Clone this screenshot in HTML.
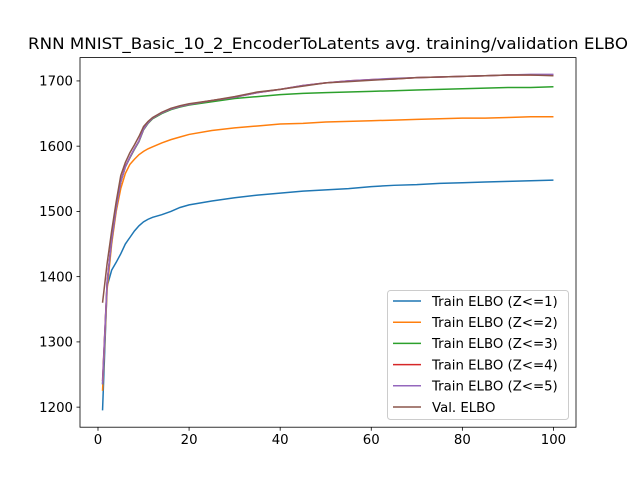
<!DOCTYPE html>
<html><head><meta charset="utf-8"><style>body{margin:0;background:#fff}svg{font-family:"DejaVu Sans","Liberation Sans",sans-serif}</style></head>
<body>
<svg id="c" width="640" height="480"></svg>
<script>
const epochs=[1,2,3,4,5,6,7,8,9,10,11,12,14,16,18,20,25,30,35,40,45,50,55,60,65,70,75,80,85,90,95,100];
const z1=[1195,1385,1410,1422,1435,1450,1460,1470,1478,1484,1488,1491,1495,1500,1506,1510,1516,1521,1525,1528,1531,1533,1535,1538,1540,1541,1543,1544,1545,1546,1547,1548];
const z2=[1225,1380,1450,1500,1535,1558,1572,1580,1587,1592,1596,1599,1605,1610,1614,1618,1624,1628,1631,1634,1635,1637,1638,1639,1640,1641,1642,1643,1643,1644,1645,1645];
const z3=[1235,1390,1455,1505,1545,1568,1582,1595,1607,1625,1635,1642,1650,1656,1660,1663,1668,1673,1676,1679,1681,1682,1683,1684,1685,1686,1687,1688,1689,1690,1690,1691];
const z4=[1240,1392,1457,1506,1546,1569,1583,1596,1608,1626,1636,1643,1651,1657,1661,1664,1670,1675,1682,1687,1693,1697,1700,1702,1703,1705,1706,1707,1708,1709,1709,1709];
const z5=[1235,1390,1456,1505,1545,1568,1583,1596,1608,1626,1636,1643,1651,1657,1661,1664,1670,1675,1682,1687,1693,1697,1700,1702,1704,1705,1706,1707,1708,1709,1710,1710];
const val=[1360,1420,1470,1515,1555,1575,1590,1602,1615,1630,1638,1644,1652,1658,1662,1665,1670,1676,1683,1687,1692,1697,1699,1701,1703,1705,1706,1707,1708,1709,1709,1708];
const xTicks=[0,20,40,60,80,100];
const yTicks=[1200,1300,1400,1500,1600,1700];
const names=["Train ELBO (Z<=1)","Train ELBO (Z<=2)","Train ELBO (Z<=3)","Train ELBO (Z<=4)","Train ELBO (Z<=5)","Val. ELBO"];
const colors=["#1f77b4","#ff7f0e","#2ca02c","#d62728","#9467bd","#8c564b"];
const series=[z1,z2,z3,z4,z5,val];
const L=80,R=576,T=57.6,B=427.2;
const all=series.flat();const ymin=Math.min(...all),ymax=Math.max(...all);const ypad=(ymax-ymin)*0.05;
const xmin=epochs[0],xmax=epochs[epochs.length-1],xpad=(xmax-xmin)*0.05;
const sx=v=>L+(v-(xmin-xpad))/((xmax+xpad)-(xmin-xpad))*(R-L);
const sy=v=>B-(v-(ymin-ypad))/((ymax+ypad)-(ymin-ypad))*(B-T);
const svg=document.getElementById('c');const NS='http://www.w3.org/2000/svg';
function mk(t,a,p){const e=document.createElementNS(NS,t);for(const k in a)e.setAttribute(k,a[k]);(p||svg).appendChild(e);return e;}
let t=mk('text',{x:328,y:49,'text-anchor':'middle','font-size':16,textLength:600,lengthAdjust:'spacingAndGlyphs'});t.textContent='RNN MNIST_Basic_10_2_EncoderToLatents avg. training/validation ELBO';


const clip=mk('clipPath',{id:'cp'});mk('rect',{x:L,y:T,width:R-L,height:B-T},clip);
series.forEach((s,i)=>{const p=mk('polyline',{points:s.map((v,j)=>sx(epochs[j])+','+sy(v)).join(' '),fill:'none',stroke:colors[i],'stroke-width':1.5,'clip-path':'url(#cp)'});

});
const fr=mk('rect',{x:L,y:T,width:R-L,height:B-T,fill:'none',stroke:'#000','stroke-width':0.8});


xTicks.forEach(v=>{const x=sx(v);mk('line',{x1:x,x2:x,y1:B,y2:B+3.5,stroke:'#000','stroke-width':0.8});const tt=mk('text',{x:x,y:B+17,'text-anchor':'middle','font-size':13.3});tt.textContent=v;

});
yTicks.forEach(v=>{const y=sy(v);mk('line',{x1:L,x2:L-3.5,y1:y,y2:y,stroke:'#000','stroke-width':0.8});const tt=mk('text',{x:L-7,y:y+4.8,'text-anchor':'end','font-size':13.3});tt.textContent=v;

});
const lg=mk('g',{});


mk('rect',{x:387.5,y:290.5,width:181,height:129,rx:3,fill:'#fff','fill-opacity':0.8,stroke:'#ccc'},lg);
names.forEach((n,i)=>{const y=301+i*21.2;const g=mk('g',{},lg);


mk('line',{x1:393,x2:421,y1:y,y2:y,stroke:colors[i],'stroke-width':1.5},g);const tt=mk('text',{x:432,y:y+4.8,'font-size':13.3},g);tt.textContent=n;});
</script>
</body></html>
